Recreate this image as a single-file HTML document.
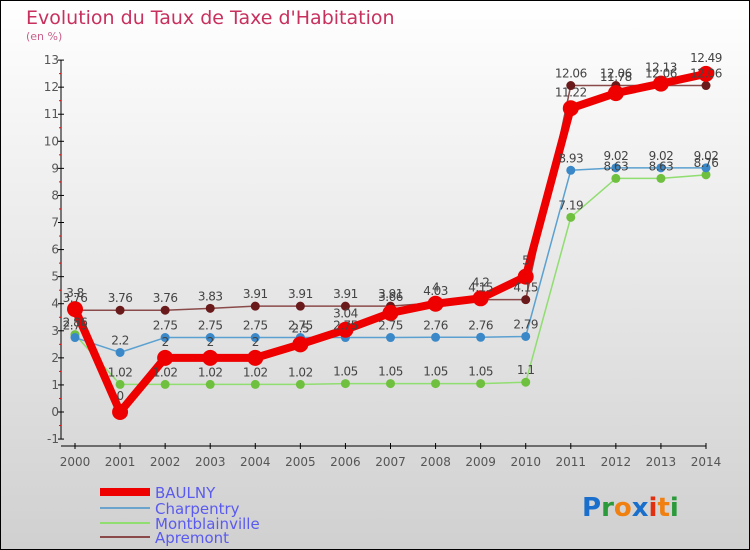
<!DOCTYPE html>
<html><head><meta charset="utf-8"><style>
body{margin:0}
svg{display:block;font-family:"DejaVu Sans","Liberation Sans",sans-serif}
</style></head><body>
<svg width="750" height="550" xmlns="http://www.w3.org/2000/svg">
<defs><linearGradient id="bg" x1="0" y1="0" x2="0" y2="1"><stop offset="0" stop-color="#ffffff"/><stop offset="1" stop-color="#d0d0d0"/></linearGradient></defs>
<rect x="0.5" y="0.5" width="749" height="549" fill="url(#bg)" stroke="#000"/>
<text x="26" y="24" font-size="19" fill="#c8305e">Evolution du Taux de Taxe d'Habitation</text>
<text x="26" y="40" font-size="11" fill="#c8608a">(en %)</text>
<g id="axes"></g><g id="series"></g><g id="labels"></g>
<g>
<line x1="100" y1="492" x2="150" y2="492" stroke="#e00" stroke-width="8"/>
<text x="155" y="498" font-size="15" fill="#5a5af0">BAULNY</text>
<line x1="100" y1="508" x2="150" y2="508" stroke="#6aa4cc" stroke-width="2"/>
<text x="155" y="514" font-size="15" fill="#5a5af0">Charpentry</text>
<line x1="100" y1="523" x2="150" y2="523" stroke="#90dd70" stroke-width="2"/>
<text x="155" y="529" font-size="15" fill="#5a5af0">Montblainville</text>
<line x1="100" y1="537" x2="150" y2="537" stroke="#8a4a4a" stroke-width="2"/>
<text x="155" y="543" font-size="15" fill="#5a5af0">Apremont</text>
</g>
<text x="582" y="516" font-size="26" font-weight="bold"><tspan fill="#1a6fcc">P</tspan><tspan fill="#2a9a3a">r</tspan><tspan fill="#f08010">o</tspan><tspan fill="#1a6fcc">x</tspan><tspan fill="#e03010">i</tspan><tspan fill="#f08010">t</tspan><tspan fill="#2a9a3a">i</tspan></text>
</svg>
<script>
const years=[2000,2001,2002,2003,2004,2005,2006,2007,2008,2009,2010,2011,2012,2013,2014];
const baulny=[3.8,0,2,2,2,2.5,3.04,3.66,4.0,4.2,5,11.22,11.78,12.13,12.49];
const charpentry=[2.75,2.2,2.75,2.75,2.75,2.75,2.75,2.75,2.76,2.76,2.79,8.93,9.02,9.02,9.02];
const montblainville=[2.86,1.02,1.02,1.02,1.02,1.02,1.05,1.05,1.05,1.05,1.1,7.19,8.63,8.63,8.76];
const apremont=[3.76,3.76,3.76,3.83,3.91,3.91,3.91,3.91,4.03,4.15,4.15,12.06,12.06,12.06,12.06];
const yTicks=[-1,0,1,2,3,4,5,6,7,8,9,10,11,12,13];
const NS="http://www.w3.org/2000/svg";
const X=i=>75+i*(706-75)/(years.length-1);
const Y=v=>412-v*27.07;
function mk(tag,attrs,parent){const e=document.createElementNS(NS,tag);for(const k in attrs)e.setAttribute(k,attrs[k]);parent.appendChild(e);return e;}
const ax=document.getElementById('axes');
mk('line',{x1:61,y1:Y(13),x2:61,y2:Y(-1),stroke:'#000'},ax);
mk('line',{x1:61,y1:446,x2:706,y2:446,stroke:'#000'},ax);
yTicks.forEach(t=>{
 mk('line',{x1:58,y1:Y(t),x2:64,y2:Y(t),stroke:'#000'},ax);
 if(t<13)mk('line',{x1:59,y1:Y(t+0.5),x2:61,y2:Y(t+0.5),stroke:'#f00'},ax);
 const tx=mk('text',{x:59,y:Y(t)+4,'font-size':12,fill:'#555','text-anchor':'end'},ax);
 
 
 tx.textContent=t;
});
years.forEach((y,i)=>{
 mk('line',{x1:X(i),y1:443,x2:X(i),y2:449,stroke:'#000'},ax);
 const tx=mk('text',{x:X(i),y:466,'font-size':12,fill:'#555','text-anchor':'middle'},ax);
 
 
 tx.textContent=y;
});
const sg=document.getElementById('series'),lg=document.getElementById('labels');
function draw(name,vals,color,w,r,dot,dy){
 const g=mk('g',{},sg);
 
 
 const p=mk('polyline',{points:vals.map((v,i)=>X(i)+','+Y(v)).join(' '),fill:'none',stroke:color,'stroke-width':w,'stroke-linejoin':'round'},g);
 
 
 vals.forEach((v,i)=>{
  const c=mk('circle',{cx:X(i),cy:Y(v),r:r,fill:dot},g);
  
  
  const t=mk('text',{x:X(i),y:Y(v)+dy,'font-size':12,fill:'#444','text-anchor':'middle','letter-spacing':'-0.5'},lg);
  
  
  t.textContent=v;
 });
}
draw('montblainville',montblainville,'#90dd70',1.5,4.5,'#70c040',-8);
draw('charpentry',charpentry,'#5aa0d0',1.5,4.5,'#3a88c8',-8);
draw('apremont',apremont,'#8a4a4a',1.5,4.5,'#6a1a1a',-8);
draw('baulny',baulny,'#ee0000',8,8,'#ee0000',-12);
</script>
</body></html>
